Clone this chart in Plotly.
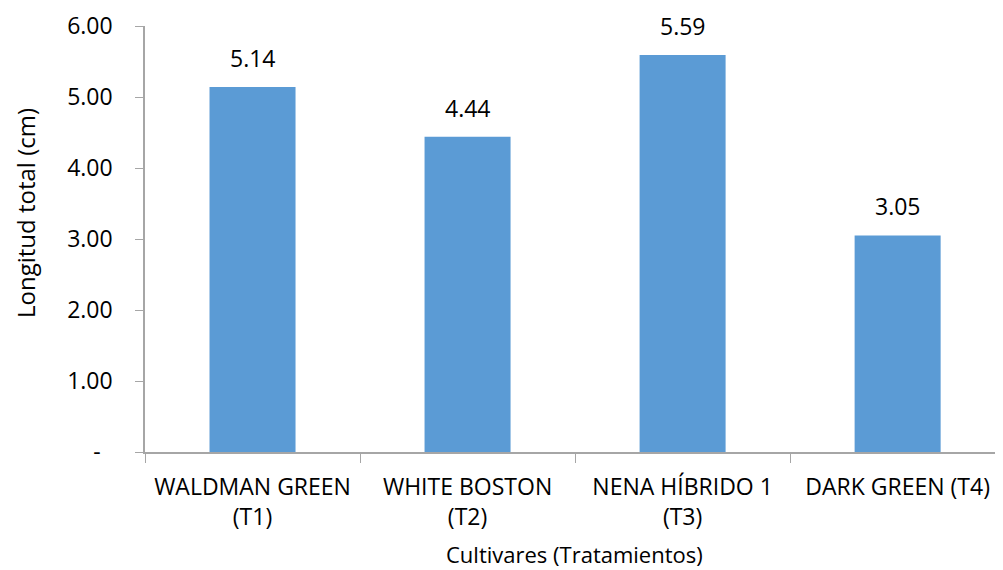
import plotly.graph_objects as go

categories = [
    "WALDMAN GREEN<br>(T1)",
    "WHITE BOSTON<br>(T2)",
    "NENA HÍBRIDO 1<br>(T3)",
    "DARK GREEN (T4)",
]
values = [5.14, 4.44, 5.59, 3.05]
value_labels = ["5.14", "4.44", "5.59", "3.05"]
y_tickvals = [0, 1, 2, 3, 4, 5, 6]
y_ticktext = ["-\u00a0\u00a0", "1.00", "2.00", "3.00", "4.00", "5.00", "6.00"]

FONT = "Open Sans"
AXIS_GRAY = "#a6a6a6"
TICK_FONT = dict(family=FONT, size=23, color="#000000")

# the page body adds an 8px margin, so the figure is 8px smaller than the window
fig = go.Figure()
fig.add_trace(
    go.Bar(
        x=categories,
        y=values,
        width=0.4,
        marker=dict(color="#5b9bd5", line=dict(width=0)),
        hoverinfo="skip",
    )
)

# data labels above each bar
for cat, val, lab in zip(categories, values, value_labels):
    fig.add_annotation(
        x=cat,
        y=val,
        text=lab,
        showarrow=False,
        yanchor="bottom",
        yshift=11,
        font=TICK_FONT,
    )

# axis titles
fig.add_annotation(
    xref="paper", yref="paper", x=0.5, y=0,
    text="Cultivares (Tratamientos)",
    showarrow=False, xanchor="center", yanchor="middle",
    yshift=-102, borderpad=0,
    font=dict(family=FONT, size=22, color="#000000"),
)
fig.add_annotation(
    xref="paper", yref="paper", x=0, y=0.561,
    text="Longitud total (cm)",
    showarrow=False, xanchor="center", yanchor="middle",
    xshift=-120, textangle=-90,
    font=dict(family=FONT, size=24, color="#000000"),
)

fig.update_layout(
    width=995,
    height=562,
    margin=dict(l=137, r=0, t=18, b=118),
    plot_bgcolor="white",
    paper_bgcolor="white",
    showlegend=False,
    font=dict(family=FONT, size=23, color="#000000"),
    xaxis=dict(
        range=[-0.5, 3.49],
        automargin=False,
        showline=True,
        linecolor=AXIS_GRAY,
        linewidth=1.5,
        ticks="outside",
        tickson="boundaries",
        ticklen=9,
        tickcolor=AXIS_GRAY,
        tickfont=TICK_FONT,
        ticklabelstandoff=14,
        showgrid=False,
    ),
    yaxis=dict(
        range=[0, 6],
        automargin=False,
        tickvals=y_tickvals,
        ticktext=y_ticktext,
        showline=True,
        linecolor=AXIS_GRAY,
        linewidth=1.5,
        ticks="outside",
        ticklen=8,
        tickcolor=AXIS_GRAY,
        tickfont=TICK_FONT,
        showgrid=False,
        zeroline=False,
        ticklabelstandoff=18,
    ),
)

fig.write_html("out.html")
